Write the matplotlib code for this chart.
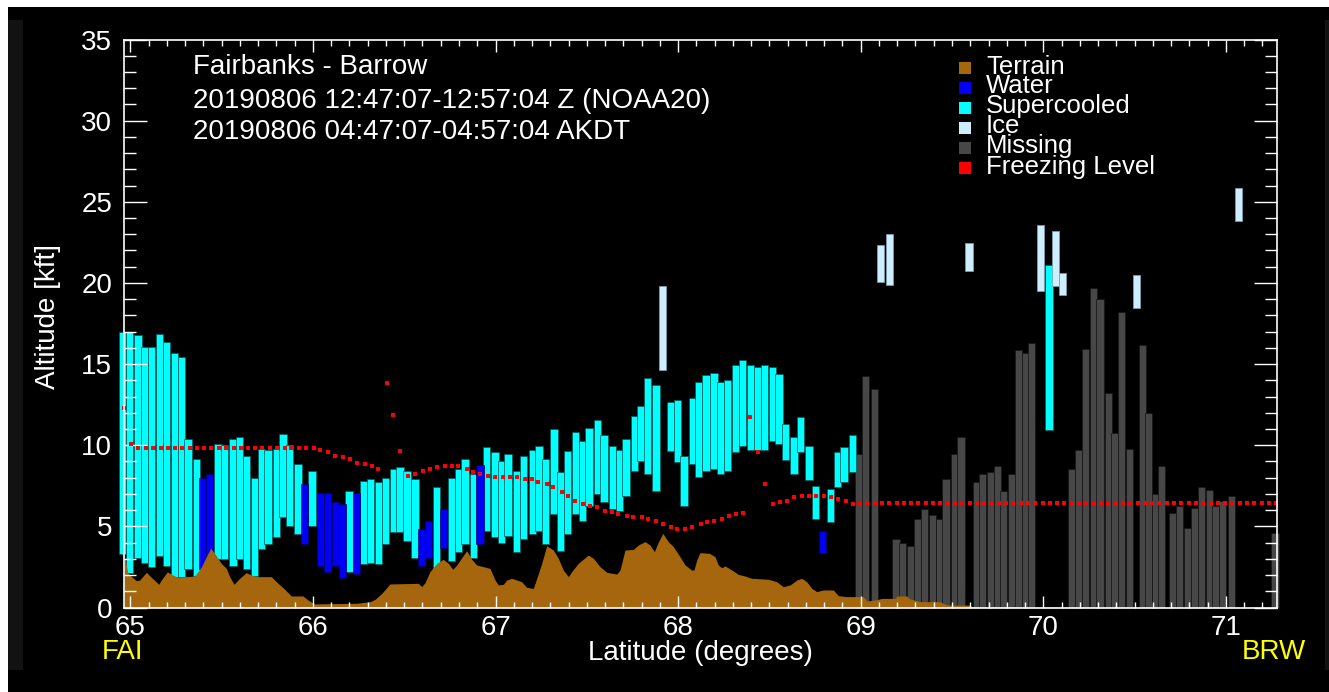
import matplotlib
matplotlib.use('Agg')
import matplotlib.pyplot as plt
from matplotlib.patches import Rectangle
from matplotlib.ticker import MultipleLocator

plt.rcParams['font.family'] = ['Liberation Sans', 'DejaVu Sans']

# ---------------- data ----------------
# Supercooled (cyan) profiles: latitude, bottom and top altitude [kft]
sc_lat = [64.957, 64.994, 65.042, 65.079, 65.115, 65.161, 65.197, 65.243, 65.279, 65.316,
          65.361, 65.480, 65.517, 65.562, 65.599, 65.635, 65.681, 65.717, 65.754, 65.800,
          65.836, 65.873, 65.918, 65.995, 66.198, 66.278, 66.317, 66.358, 66.397, 66.440,
          66.477, 66.515, 66.559, 66.678, 66.760, 66.796, 66.833, 66.878, 66.952, 66.997,
          67.034, 67.069, 67.116, 67.152, 67.202, 67.238, 67.275, 67.320, 67.357, 67.393,
          67.439, 67.475, 67.512, 67.558, 67.594, 67.642, 67.678, 67.715, 67.760, 67.797,
          67.834, 67.879, 67.957, 67.996, 68.032, 68.078, 68.113, 68.153, 68.197, 68.233,
          68.270, 68.316, 68.352, 68.398, 68.434, 68.471, 68.516, 68.553, 68.589, 68.635,
          68.671, 68.717, 68.754, 68.836, 68.872, 68.909, 68.954, 70.031]
sc_bot = [3.28, 2.10, 3.03, 2.76, 2.47, 3.17, 2.58, 1.90, 1.86, 2.35,
          1.94, 2.97, 2.97, 2.58, 2.97, 2.35, 1.94, 3.58, 3.91, 4.32,
          5.56, 5.02, 4.51, 5.02, 2.17, 2.66, 2.76, 2.66, 3.91, 4.63,
          4.63, 4.10, 3.03, 2.31, 2.89, 3.40, 3.91, 3.05, 4.73, 4.36,
          4.00, 4.40, 3.40, 4.22, 4.51, 4.73, 3.91, 5.74, 3.50, 4.51,
          5.74, 5.35, 6.25, 6.99, 6.48, 6.07, 5.97, 6.89, 8.41, 9.05,
          8.24, 7.20, 9.67, 8.94, 6.25, 8.82, 8.02, 8.43, 8.53, 8.24,
          8.43, 9.57, 9.98, 9.70, 9.70, 9.70, 10.28, 10.09, 9.07, 8.24,
          9.57, 7.83, 5.43, 5.27, 7.42, 7.71, 8.35, 10.93]
sc_top = [17.00, 17.00, 16.80, 16.07, 16.07, 16.85, 16.38, 15.66, 15.45, 10.38,
          9.15, 10.10, 10.00, 10.38, 10.48, 9.33, 8.00, 9.75, 9.70, 9.75,
          10.67, 10.00, 8.82, 8.40, 7.18, 7.81, 7.94, 7.71, 8.00, 8.53,
          8.66, 8.41, 7.94, 7.42, 8.00, 8.53, 9.15, 8.25, 9.87, 9.56,
          9.05, 9.46, 8.39, 9.33, 9.68, 9.97, 9.15, 11.02, 8.35, 9.66,
          10.79, 10.25, 11.08, 11.58, 10.66, 9.97, 9.68, 10.36, 11.83, 12.41,
          14.16, 13.69, 12.65, 12.76, 9.33, 12.94, 13.88, 14.30, 14.43, 13.89,
          14.00, 14.94, 15.23, 14.94, 14.84, 14.94, 14.82, 14.40, 11.32, 10.50,
          11.74, 9.98, 7.48, 7.30, 9.56, 9.87, 10.61, 21.10]

# Water (blue) profiles
wt_lat = [65.398, 65.435, 65.955, 66.041, 66.079, 66.123, 66.161, 66.238, 66.596, 66.632,
          66.714, 66.915, 68.790]
wt_bot = [2.40, 2.40, 3.91, 2.58, 2.21, 2.58, 1.84, 2.05, 2.58, 3.03, 3.69, 3.91, 3.37]
wt_top = [8.00, 8.23, 7.59, 7.07, 7.07, 6.48, 6.38, 7.07, 4.84, 5.33, 6.07, 8.78, 4.71]

# Ice (light blue) profiles
ice_lat = [67.916, 69.110, 69.157, 69.593, 69.986, 70.068, 70.104, 70.509, 71.068]
ice_bot = [14.61, 20.07, 19.90, 20.75, 19.52, 19.80, 19.27, 18.47, 23.83]
ice_top = [19.79, 22.35, 23.00, 22.48, 23.60, 23.17, 20.60, 20.49, 25.86]

# Missing (grey) profiles, from the ground up
ms_lat = [68.991, 69.027, 69.075, 69.193, 69.230, 69.272, 69.312, 69.348, 69.394, 69.431,
          69.467, 69.513, 69.549, 69.632, 69.668, 69.710, 69.747, 69.783, 69.829, 69.865,
          69.902, 69.937, 70.156, 70.192, 70.229, 70.274, 70.311, 70.356, 70.391, 70.427,
          70.473, 70.544, 70.577, 70.613, 70.649, 70.709, 70.745, 70.791, 70.827, 70.868,
          70.908, 70.944, 70.983, 71.030, 71.269]
ms_top = [9.46, 14.28, 13.46, 4.20, 3.95, 3.79, 5.43, 6.07, 5.70, 5.43,
          7.92, 9.46, 10.50, 7.71, 8.22, 8.33, 8.74, 7.17, 8.22, 15.86,
          15.66, 16.28, 8.51, 9.68, 15.93, 19.68, 19.03, 13.19, 10.78, 18.18,
          9.74, 16.17, 11.96, 7.00, 8.74, 5.84, 6.25, 4.92, 6.13, 7.40,
          7.27, 6.27, 6.58, 6.89, 4.61]

# Terrain profile
ter_lat = [64.966, 64.987, 65.033, 65.051, 65.088, 65.115, 65.156, 65.170, 65.203, 65.234,
           65.261, 65.353, 65.389, 65.416, 65.440, 65.462, 65.498, 65.526, 65.544, 65.568,
           65.599, 65.635, 65.663, 65.699, 65.772, 65.809, 65.846, 65.882, 65.946, 65.973,
           66.010, 66.240, 66.313, 66.340, 66.377, 66.422, 66.577, 66.596, 66.614, 66.641,
           66.678, 66.714, 66.742, 66.766, 66.788, 66.815, 66.842, 66.870, 66.897, 66.970,
           66.997, 67.015, 67.043, 67.061, 67.089, 67.143, 67.171, 67.207, 67.226, 67.253,
           67.280, 67.317, 67.344, 67.371, 67.399, 67.417, 67.453, 67.508, 67.536, 67.572,
           67.609, 67.664, 67.682, 67.709, 67.755, 67.782, 67.819, 67.846, 67.870, 67.888,
           67.916, 67.946, 67.974, 68.010, 68.038, 68.074, 68.087, 68.102, 68.120, 68.171,
           68.202, 68.220, 68.239, 68.257, 68.294, 68.330, 68.366, 68.403, 68.494, 68.540,
           68.576, 68.613, 68.650, 68.677, 68.704, 68.732, 68.759, 68.795, 68.850, 68.877,
           68.923, 69.013, 69.034, 69.078, 69.117, 69.188, 69.199, 69.252, 69.265, 69.292,
           69.325, 69.434, 69.451, 69.478, 69.599, 69.610, 69.872, 69.883, 70.475, 70.503,
           71.277]
ter_alt = [3.34, 2.10, 1.65, 1.69, 2.17, 1.86, 1.43, 1.70, 2.20, 2.00,
           1.86, 1.94, 2.50, 3.13, 3.65, 3.34, 2.72, 2.41, 1.90, 1.43,
           1.80, 2.15, 2.00, 1.90, 1.90, 1.49, 1.12, 0.71, 0.71, 0.46,
           0.22, 0.26, 0.36, 0.50, 0.87, 1.45, 1.49, 1.29, 1.53, 2.21,
           2.72, 2.97, 2.72, 2.35, 2.62, 3.07, 3.50, 2.97, 2.62, 2.41,
           1.70, 1.39, 1.43, 1.69, 1.80, 1.59, 1.24, 1.18, 1.80, 2.72,
           3.80, 3.54, 3.03, 2.31, 1.90, 2.21, 2.72, 3.23, 3.03, 2.52,
           2.17, 2.06, 2.31, 3.54, 3.58, 3.85, 4.06, 3.85, 3.44, 3.95,
           4.57, 4.06, 3.75, 3.13, 2.62, 2.31, 2.31, 2.93, 3.38, 3.34,
           3.13, 2.62, 2.45, 2.56, 2.31, 2.04, 1.94, 1.80, 1.74, 1.59,
           1.28, 1.39, 1.69, 1.80, 1.59, 1.18, 0.98, 1.08, 1.08, 0.73,
           0.67, 0.67, 0.40, 0.46, 0.56, 0.56, 0.71, 0.71, 0.56, 0.46,
           0.36, 0.36, 0.26, 0.15, 0.15, 0.05, 0.05, 0.02, 0.02, 0.00,
           0.00]

# Freezing level points
fz_lat = [64.966, 65.005, 65.042, 65.084, 65.124, 65.166, 65.206, 65.246, 65.283, 65.325,
          65.365, 65.404, 65.444, 65.484, 65.526, 65.566, 65.605, 65.645, 65.685, 65.723,
          65.763, 65.805, 65.846, 65.882, 65.924, 65.964, 66.006, 66.039, 66.084, 66.121,
          66.166, 66.203, 66.240, 66.285, 66.322, 66.358, 66.404, 66.440, 66.477, 66.522,
          66.559, 66.605, 66.641, 66.678, 66.723, 66.760, 66.796, 66.842, 66.878, 66.915,
          66.961, 66.997, 67.043, 67.079, 67.116, 67.162, 67.198, 67.234, 67.280, 67.317,
          67.363, 67.399, 67.435, 67.481, 67.518, 67.558, 67.600, 67.636, 67.673, 67.718,
          67.755, 67.801, 67.837, 67.877, 67.919, 67.959, 67.996, 68.038, 68.074, 68.124,
          68.160, 68.197, 68.239, 68.279, 68.317, 68.357, 68.394, 68.436, 68.476, 68.518,
          68.558, 68.598, 68.635, 68.680, 68.717, 68.754, 68.799, 68.836, 68.874, 68.918,
          68.956, 68.996, 69.036, 69.076, 69.116, 69.156, 69.196, 69.236, 69.276, 69.316,
          69.356, 69.396, 69.436, 69.476, 69.516, 69.556, 69.596, 69.636, 69.676, 69.716,
          69.756, 69.796, 69.836, 69.876, 69.916, 69.956, 69.996, 70.036, 70.076, 70.116,
          70.156, 70.196, 70.236, 70.276, 70.316, 70.356, 70.396, 70.436, 70.476, 70.516,
          70.556, 70.596, 70.636, 70.676, 70.716, 70.756, 70.796, 70.836, 70.876, 70.916,
          70.956, 70.996, 71.036, 71.076, 71.116, 71.156, 71.196, 71.236, 71.272]
fz_alt = [12.27, 10.07, 9.81, 9.81, 9.81, 9.81, 9.81, 9.81, 9.81, 9.81,
          9.81, 9.81, 9.81, 9.81, 9.81, 9.81, 9.81, 9.81, 9.81, 9.81,
          9.81, 9.81, 9.81, 9.81, 9.81, 9.81, 9.81, 9.70, 9.56, 9.36,
          9.25, 9.15, 8.92, 8.84, 8.74, 8.53, 13.81, 11.86, 9.66, 8.12,
          8.23, 8.43, 8.53, 8.64, 8.74, 8.74, 8.74, 8.53, 8.33, 8.23,
          8.12, 8.02, 8.02, 8.02, 8.02, 7.92, 7.92, 7.71, 7.61, 7.40,
          7.10, 6.89, 6.58, 6.38, 6.27, 6.17, 5.97, 5.86, 5.76, 5.66,
          5.56, 5.56, 5.45, 5.35, 5.14, 4.94, 4.83, 4.83, 4.94, 5.15,
          5.25, 5.35, 5.45, 5.64, 5.76, 5.84, 11.72, 9.56, 7.61, 6.38,
          6.48, 6.58, 6.79, 6.89, 6.89, 6.89, 6.89, 6.79, 6.69, 6.58,
          6.38, 6.38, 6.42, 6.42, 6.42, 6.42, 6.42, 6.42, 6.42, 6.42,
          6.42, 6.42, 6.42, 6.42, 6.42, 6.42, 6.42, 6.42, 6.42, 6.42,
          6.42, 6.42, 6.42, 6.42, 6.42, 6.42, 6.42, 6.42, 6.42, 6.42,
          6.42, 6.42, 6.42, 6.42, 6.42, 6.42, 6.42, 6.42, 6.42, 6.42,
          6.42, 6.42, 6.42, 6.42, 6.42, 6.42, 6.42, 6.42, 6.42, 6.42,
          6.42, 6.42, 6.42, 6.42, 6.42, 6.42, 6.42, 6.42, 6.42]

legend_labels = ['Terrain', 'Water', 'Supercooled', 'Ice', 'Missing', 'Freezing Level']
title_lines = ['Fairbanks - Barrow',
               '20190806 12:47:07-12:57:04 Z (NOAA20)',
               '20190806 04:47:07-04:57:04 AKDT']

# ---------------- styles ----------------
C_TERRAIN = '#A6660E'
C_WATER = '#0000F5'
C_SC = '#00FFFF'
C_ICE = '#CCEEFF'
C_MISS = '#474747'
C_FZ = '#FF0000'
BAR_W = 0.0395
FS = 20
FS_LEG = 18.5

W, H = 1329, 692
fig = plt.figure(figsize=(W / 100, H / 100), dpi=100, facecolor='white')


def fx(px):
    return px / W


def fy(py):
    return 1 - py / H


fig.patches.append(Rectangle((fx(8), 0), 1 - fx(8), fy(7), transform=fig.transFigure,
                             facecolor='black', edgecolor='none', zorder=-10))
fig.patches.append(Rectangle((fx(8), fy(670)), fx(15), fy(20) - fy(670), transform=fig.transFigure,
                             facecolor='#121212', edgecolor='none', zorder=-9))
fig.patches.append(Rectangle((fx(1325), fy(670)), fx(4), fy(20) - fy(670), transform=fig.transFigure,
                             facecolor='#121212', edgecolor='none', zorder=-9))

ax = fig.add_axes([fx(124), fy(607.5), fx(1276.5) - fx(124), fy(39.5) - fy(607.5)])
ax.set_facecolor('black')
ax.set_xlim(64.9655, 71.277)
ax.set_ylim(0, 35)


def draw_bars(lat, bot, top, fc, ec):
    bars = ax.bar(lat, [t - b for b, t in zip(bot, top)], bottom=bot, width=BAR_W,
                  color=fc, edgecolor=ec, linewidth=0.55, zorder=1)
    for p in bars:
        p.set_clip_on(False)


draw_bars(ms_lat, [0] * len(ms_lat), ms_top, C_MISS, '#161616')
draw_bars(sc_lat, sc_bot, sc_top, C_SC, '#0a5a5a')
draw_bars(wt_lat, wt_bot, wt_top, C_WATER, '#00006a')
draw_bars(ice_lat, ice_bot, ice_top, C_ICE, '#7f9fae')

ax.fill_between(ter_lat, 0, ter_alt, color=C_TERRAIN, linewidth=0, zorder=1.2)
ax.plot(fz_lat, fz_alt, ls='none', marker='s', ms=2.5, mew=0, color=C_FZ, zorder=3,
        clip_on=False)

ax.xaxis.set_major_locator(MultipleLocator(1))
ax.xaxis.set_minor_locator(MultipleLocator(0.1))
ax.yaxis.set_major_locator(MultipleLocator(5))
ax.yaxis.set_minor_locator(MultipleLocator(1))
ax.tick_params(axis='both', which='both', direction='in', colors='white',
               top=True, right=True, width=1.0)
ax.tick_params(axis='x', which='major', length=8.6, pad=5.5, labelsize=FS)
ax.tick_params(axis='x', which='minor', length=4.3)
ax.tick_params(axis='y', which='major', length=16.5, pad=8.6, labelsize=FS)
ax.tick_params(axis='y', which='minor', length=8.6)
for s in ax.spines.values():
    s.set_color('white')
    s.set_linewidth(1.2)
    s.set_zorder(4)

# titles
for txt, base in zip(title_lines, [74, 108, 139]):
    fig.text(fx(193), fy(base), txt, color='white', fontsize=FS, ha='left', va='baseline')

# legend
leg_colors = [C_TERRAIN, C_WATER, C_SC, C_ICE, C_MISS, C_FZ]
sq_centers = [68, 88, 108, 128, 148, 168]
txt_bases = [74.3, 93.3, 112.7, 133, 153, 174]
for lab, col, sc, tb in zip(legend_labels, leg_colors, sq_centers, txt_bases):
    fig.patches.append(Rectangle((fx(959), fy(sc + 6)), fx(12), fy(sc - 6) - fy(sc + 6),
                                 transform=fig.transFigure, facecolor=col, edgecolor='none',
                                 zorder=5))
    fig.text(fx(986), fy(tb), lab, color='white', fontsize=FS_LEG, ha='left', va='baseline')

fig.text(fx(48), fy(316.5), 'Altitude [kft]', color='white', fontsize=FS, rotation=90,
         ha='center', va='center')
fig.text(fx(700), fy(660), 'Latitude (degrees)', color='white', fontsize=20,
         ha='center', va='baseline')
fig.text(fx(122.5), fy(659), 'FAI', color='#FFFF00', fontsize=FS, ha='center', va='baseline')
fig.text(fx(1274), fy(659), 'BRW', color='#FFFF00', fontsize=FS, ha='center', va='baseline')

fig.savefig('out.png', dpi=100, facecolor=fig.get_facecolor())
